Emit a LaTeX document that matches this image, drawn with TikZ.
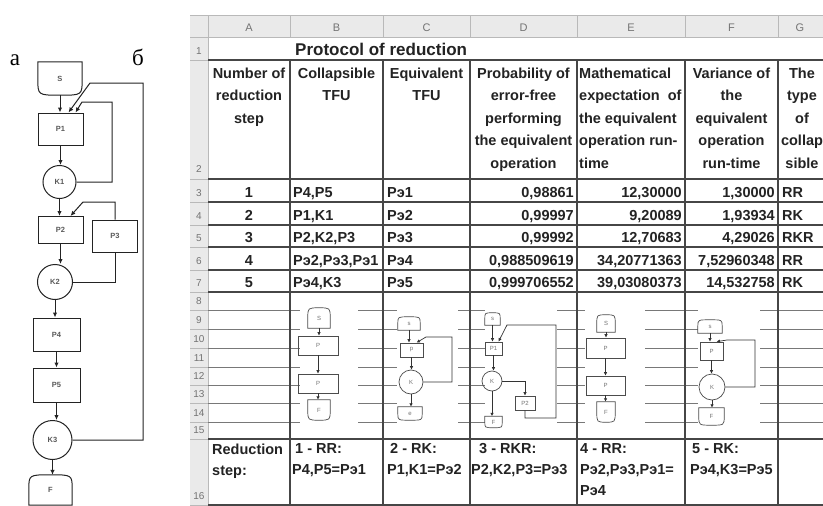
\documentclass[tikz,border=0pt]{standalone}
\usepackage{fontspec}
\setmainfont{Liberation Sans}
\newfontfamily\cyrserif{Liberation Serif}
\usetikzlibrary{arrows.meta}
\definecolor{hdrfill}{RGB}{234,234,234}
\definecolor{hdrline}{RGB}{185,185,185}
\definecolor{hdrtext}{RGB}{115,115,115}
\definecolor{tline}{RGB}{70,70,70}
\definecolor{gridl}{RGB}{120,120,120}
\definecolor{ink}{RGB}{35,35,35}
\newcommand\domeshape[2]{\draw[#1] (#2.south west) -- (#2.west) .. controls (#2.north west) .. (#2.north) .. controls (#2.north east) .. (#2.east) -- (#2.south east) -- cycle;}
\newcommand\bowlshape[2]{\draw[#1] (#2.north west) -- (#2.north east) -- (#2.east) .. controls (#2.south east) .. (#2.south) .. controls (#2.south west) .. (#2.west) -- cycle;}
\begin{document}
\begin{tikzpicture}[x=1pt,y=-1pt,
  flshape/.style={draw=ink, line width=1pt},
  fltxt/.style={inner sep=0pt, font=\bfseries\fontsize{7.5}{8}\selectfont, text=black!65},
  flbox/.style={flshape, fltxt, rectangle, minimum width=45pt, minimum height=32pt},
  flcirc/.style={flshape, fltxt, circle},
  flarr/.style={draw=ink, line width=1pt, -{Latex[length=5pt,width=4.5pt]}},
  flln/.style={draw=ink, line width=1pt},
  smshape/.style={draw=black!70, line width=0.7pt},
  smtxt/.style={inner sep=0pt, font=\fontsize{6}{7}\selectfont, text=black!55},
  smbox/.style={smshape, smtxt, rectangle},
  smcirc/.style={smshape, smtxt, circle},
  smarr/.style={draw=black!80, line width=0.7pt, -{Latex[length=3.5pt,width=3.5pt]}},
  cell/.style={inner sep=0pt, font=\bfseries\fontsize{14.5}{22.5}\selectfont, text=ink},
  hd/.style={cell, align=center, anchor=north},
  foot/.style={inner sep=0pt, font=\bfseries\fontsize{14.5}{21}\selectfont, text=ink, align=left, anchor=north west},
  colno/.style={inner sep=0pt, anchor=base, font=\fontsize{11}{12}\selectfont, text=hdrtext},
  tborder/.style={draw=tline, line width=1.1pt},
  hl/.style={draw=hdrline, line width=0.6pt},
  gl/.style={draw=gridl, line width=0.8pt}]
\useasboundingbox (0,0) rectangle (823,506);
\fill[white] (0,0) rectangle (823,506);

% ---------------- left flowchart ----------------
\node[anchor=base, inner sep=0pt, font=\cyrserif\fontsize{23}{25}\selectfont] (la) at (15,65) {а};
\node[anchor=base, inner sep=0pt, font=\cyrserif\fontsize{23}{25}\selectfont] (lb) at (138,65) {б};

\node[fltxt, minimum width=44pt, minimum height=33pt] (S) at (60,78.5) {S};
\bowlshape{flshape}{S}
\node[flbox] (P1) at (60.5,129) {P1};
\node[flcirc, minimum size=33pt] (K1) at (59.5,182) {K1};
\node[flbox, minimum height=27pt] (P2) at (60.5,230) {P2};
\node[flbox] (P3) at (115,236) {P3};
\node[flcirc, minimum size=35pt] (K2) at (55,282) {K2};
\node[flbox, minimum width=47pt, minimum height=33pt] (P4) at (56.5,334.5) {P4};
\node[flbox, minimum width=47pt, minimum height=34pt] (P5) at (56.5,385) {P5};
\node[flcirc, minimum size=39pt] (K3) at (52.5,440) {K3};
\node[fltxt, minimum width=43pt, minimum height=30pt] (F) at (50.5,490) {F};
\domeshape{flshape}{F}

\draw[flarr] (S.south) -- (S.south |- P1.north);
\draw[flarr] (P1.south) -- (P1.south |- K1.north);
\draw[flarr] (K1.south) -- (K1.south |- P2.north);
\draw[flarr] (P2.south) -- (P2.south |- K2.north);
\draw[flarr] (K2.south) -- (K2.south |- P4.north);
\draw[flarr] (P4.south) -- (P4.south |- P5.north);
\draw[flarr] (P5.south) -- (P5.south |- K3.north);
\draw[flarr] (K3.south) -- (K3.south |- F.north);

\coordinate (L1) at (112,102);
\coordinate (L1b) at (82,102);
\draw[flarr] (K1.east) -| (L1) -- (L1b) -- ([xshift=15pt]P1.north);
\coordinate (L2) at (143,83);
\coordinate (L2b) at (90,83);
\draw[flarr] (K3.east) -| (L2) -- (L2b) -- ([xshift=8pt]P1.north);
\coordinate (L3b) at (83,202);
\draw[flarr] (P3.north) |- (L3b) -- ([xshift=10pt]P2.north);
\draw[flln] (P3.south) |- (K2.east);

% ---------------- spreadsheet frame ----------------
\fill[hdrfill] (190,15) rectangle (823,37);
\fill[hdrfill] (190,37) rectangle (208,506);
\foreach \xx in {208,290,383,470,577,685,778} \draw[hl] (\xx,15) -- (\xx,37);
\draw[hl] (190,37) -- (823,37);
\draw[hl] (190,15) -- (823,15);
\foreach \yy in {60,179,202,225,247,270,292,310,329,348,367,385,403,422,439,505} \draw[hl] (190,\yy) -- (208,\yy);
\draw[hl] (208,37) -- (208,506);

\foreach \ll/\xx in {A/249,B/336.5,C/426.5,D/523.5,E/631,F/731.5,G/800}
  \node[colno] (col\ll) at (\xx,31) {\ll};
\foreach \nn/\bb in {1/54,2/172,3/196,4/219,5/241,6/264,7/286,8/304,9/323,10/342,11/361,12/379,13/397,14/416,15/433,16/499}
  \node[colno, font=\fontsize{10}{11}\selectfont] (row\nn) at (199,\bb) {\nn};

% grid lines of rows 9-15
\foreach \yy in {310,329,348,367,385,403,422} \draw[gl] (208,\yy) -- (823,\yy);
% pictures of the reduction steps cover the grid lines
\fill[white] (300,304) rectangle (358,430);
\fill[white] (397,304) rectangle (458,430);
\fill[white] (485,304) rectangle (557,430);
\fill[white] (585,304) rectangle (645,430);
\fill[white] (698,304) rectangle (760,430);

% table borders
\draw[tborder] (208,60) -- (823,60);
\foreach \yy in {179,202,225,247,270,292,439,505} \draw[tborder] (208,\yy) -- (823,\yy);
\foreach \xx in {290,383,470,577,685,778} \draw[tborder] (\xx,60) -- (\xx,506);

% ---------------- texts ----------------
\node[inner sep=0pt, anchor=base west, font=\bfseries\fontsize{17}{20}\selectfont, text=ink] (title) at (295,55.5) {Protocol of reduction};

\node[hd] (hA) at (249,67.5) {Number of\\reduction\\step};
\node[hd] (hB) at (336.5,67.5) {Collapsible\\TFU};
\node[hd] (hC) at (426.5,67.5) {Equivalent\\TFU};
\node[hd] (hD) at (523.5,67.5) {Probability of\\error-free\\performing\\the equivalent\\operation};
\node[cell, align=left, anchor=north west] (hE) at (579,67.5) {Mathematical\\expectation\ \ of\\the equivalent\\operation run-\\time};
\node[hd] (hF) at (731.5,67.5) {Variance of\\the\\equivalent\\operation\\run-time};
\node[hd] (hG) at (802,67.5) {The\\type\\of\\collap\\sible};

\foreach \rr/\bb/\na/\nb/\nc/\nd/\ne/\nf/\ng in {
  3/197/1/{P4,P5}/Pэ1/{0,98861}/{12,30000}/{1,30000}/RR,
  4/220/2/{P1,K1}/Pэ2/{0,99997}/{9,20089}/{1,93934}/RK,
  5/242/3/{P2,K2,P3}/Pэ3/{0,99992}/{12,70683}/{4,29026}/RKR,
  6/265/4/{Pэ2,Pэ3,Pэ1}/Pэ4/{0,988509619}/{34,20771363}/{7,52960348}/RR,
  7/287/5/{Pэ4,K3}/Pэ5/{0,999706552}/{39,03080373}/{14,532758}/RK}{
  \node[cell, anchor=base] (a\rr) at (249,\bb) {\na};
  \node[cell, anchor=base west] (b\rr) at (293,\bb) {\nb};
  \node[cell, anchor=base west] (c\rr) at (387,\bb) {\nc};
  \node[cell, anchor=base east] (d\rr) at (574,\bb) {\nd};
  \node[cell, anchor=base east] (e\rr) at (682,\bb) {\ne};
  \node[cell, anchor=base east] (f\rr) at (775,\bb) {\nf};
  \node[cell, anchor=base west] (g\rr) at (782,\bb) {\ng};
}

\node[foot] (sA) at (212,443.5) {Reduction\\step:};
\node[foot] (sB) at (292,443.5) {\hspace*{3pt}1 - RR:\\P4,P5=Pэ1};
\node[foot] (sC) at (387,443.5) {\hspace*{3pt}2 - RK:\\P1,K1=Pэ2};
\node[foot] (sD) at (471,443.5) {\hspace*{8pt}3 - RKR:\\P2,K2,P3=Pэ3};
\node[foot] (sE) at (580,443.5) {4 - RR:\\Pэ2,Pэ3,Pэ1=\\Pэ4};
\node[foot] (sF) at (690,443.5) {\hspace*{2pt}5 - RK:\\Pэ4,K3=Pэ5};

% ---------------- step 1 (column B) ----------------
\node[smtxt, minimum width=22pt, minimum height=20pt] (bS) at (319,318) {S};
\domeshape{smshape}{bS}
\node[smbox, minimum width=40pt, minimum height=19pt] (bP1) at (318,345.5) {P};
\node[smbox, minimum width=40pt, minimum height=19pt] (bP2) at (318,383.5) {P};
\node[smtxt, minimum width=22pt, minimum height=20pt] (bF) at (319,410) {F};
\bowlshape{smshape}{bF}
\draw[smarr] (bS.south) -- (bS.south |- bP1.north);
\draw[smarr] (bP1.south) -- (bP1.south |- bP2.north);
\draw[smarr] (bP2.south) -- (bP2.south |- bF.north);

% ---------------- step 2 (column C) ----------------
\node[smtxt, minimum width=22pt, minimum height=13pt] (cS) at (409,323.5) {s};
\domeshape{smshape}{cS}
\node[smbox, minimum width=23pt, minimum height=14pt] (cP) at (411.5,350) {p};
\node[smcirc, minimum size=24pt] (cK) at (411,382) {K};
\node[smtxt, minimum width=24pt, minimum height=13pt] (cE) at (410,413.5) {e};
\bowlshape{smshape}{cE}
\draw[smarr] (cS.south) -- (cS.south |- cP.north);
\draw[smarr] (cP.south) -- (cP.south |- cK.north);
\draw[smarr] (cK.south) -- (cK.south |- cE.north);
\coordinate (cL) at (452,337);
\coordinate (cLb) at (426,337);
\draw[smarr] (cK.east) -| (cL) -- (cLb) -- ([xshift=5pt]cP.north);

% ---------------- step 3 (column D) ----------------
\node[smtxt, minimum width=15pt, minimum height=12pt] (dS) at (492.5,319) {s};
\domeshape{smshape}{dS}
\node[smbox, minimum width=17pt, minimum height=13pt] (dP1) at (493.5,348.5) {P1};
\node[smcirc, minimum size=20pt] (dK) at (492,381) {K};
\node[smbox, minimum width=20pt, minimum height=14pt] (dP2) at (525,403) {P2};
\node[smtxt, minimum width=17pt, minimum height=11pt] (dF) at (493.5,422) {F};
\bowlshape{smshape}{dF}
\draw[smarr] (dS.south) -- (dS.south |- dP1.north);
\draw[smarr] (dP1.south) -- (dP1.south |- dK.north);
\draw[smarr] (dK.south) -- (dK.south |- dF.north);
\draw[smarr] (dK.east) -| (dP2.north);
\coordinate (dL1) at (556,418);
\coordinate (dL2) at (556,325);
\coordinate (dL3) at (507,325);
\draw[smarr] (dP2.south) |- (dL1) -- (dL2) -- (dL3) -- ([xshift=5pt]dP1.north);

% ---------------- step 4 (column E) ----------------
\node[smtxt, minimum width=18pt, minimum height=17pt] (eS) at (606,323.5) {S};
\domeshape{smshape}{eS}
\node[smbox, minimum width=39pt, minimum height=20pt] (eP1) at (605.5,348) {P};
\node[smbox, minimum width=39pt, minimum height=19pt] (eP2) at (605.5,385.5) {P};
\node[smtxt, minimum width=18pt, minimum height=20pt] (eF) at (606,412) {F};
\bowlshape{smshape}{eF}
\draw[smarr] (eS.south) -- (eS.south |- eP1.north);
\draw[smarr] (eP1.south) -- (eP1.south |- eP2.north);
\draw[smarr] (eP2.south) -- (eP2.south |- eF.north);

% ---------------- step 5 (column F) ----------------
\node[smtxt, minimum width=24pt, minimum height=13pt] (fS) at (710,326.5) {s};
\domeshape{smshape}{fS}
\node[smbox, minimum width=23pt, minimum height=18pt] (fP) at (711.5,351) {P};
\node[smcirc, minimum size=26pt] (fK) at (712,387) {K};
\node[smtxt, minimum width=25pt, minimum height=17pt] (fE) at (711.5,416.5) {F};
\bowlshape{smshape}{fE}
\draw[smarr] (fS.south) -- (fS.south |- fP.north);
\draw[smarr] (fP.south) -- (fP.south |- fK.north);
\draw[smarr] (fK.south) -- (fK.south |- fE.north);
\coordinate (fL) at (755,340);
\coordinate (fLb) at (727,340);
\draw[smarr] (fK.east) -| (fL) -- (fLb) -- ([xshift=5pt]fP.north);
\end{tikzpicture}
\end{document}
